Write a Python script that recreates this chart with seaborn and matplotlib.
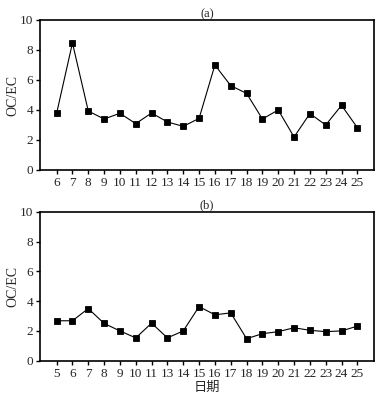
import matplotlib
matplotlib.use("Agg")
import matplotlib.pyplot as plt
import seaborn as sns
import pandas as pd

days_a = ["6", "7", "8", "9", "10", "11", "12", "13", "14", "15",
          "16", "17", "18", "19", "20", "21", "22", "23", "24", "25"]
ratio_a = [3.78, 8.47, 3.93, 3.40, 3.78, 3.09, 3.80, 3.20, 2.91, 3.44,
           7.00, 5.62, 5.11, 3.40, 4.00, 2.20, 3.76, 3.00, 4.31, 2.82]

days_b = ["5", "6", "7", "8", "9", "10", "11", "13", "14", "15",
          "16", "17", "18", "19", "20", "21", "22", "23", "24", "25"]
ratio_b = [2.68, 2.68, 3.50, 2.50, 2.00, 1.53, 2.52, 1.53, 2.00, 3.63,
           3.08, 3.21, 1.48, 1.81, 1.95, 2.21, 2.04, 1.95, 2.00, 2.32]

titles = ["(a)", "(b)"]
yticks = [0, 2, 4, 6, 8, 10]

sns.set_theme(style="ticks")
plt.rcParams['font.family'] = ['Liberation Serif', 'Noto Sans CJK SC']
plt.rcParams['axes.linewidth'] = 1.2

fig = plt.figure(figsize=(3.87, 3.99), dpi=100)
ax1 = fig.add_axes([40/387, 1-170/399, 334/387, 150/399])
ax2 = fig.add_axes([40/387, 1-360.7/399, 334/387, 149/399])

for ax, days, vals, title in [(ax1, days_a, ratio_a, titles[0]),
                              (ax2, days_b, ratio_b, titles[1])]:
    df = pd.DataFrame({"day": days, "ratio": vals})
    sns.pointplot(data=df, x="day", y="ratio", ax=ax, color="black",
                  markers="s", markersize=5, linewidth=0.8,
                  errorbar=None, order=days)
    n = len(days)
    ax.set_xlim(-1.05, n + 0.05)
    ax.set_ylim(0, 10)
    ax.set_yticks(yticks)
    ax.set_ylabel("OC/EC", fontsize=10, labelpad=0.5)
    ax.set_xlabel("")
    ax.set_title(title, fontsize=9, pad=2)
    ax.tick_params(axis="both", direction="out", length=3, width=1,
                   labelsize=9.5, pad=2, color="black")
    for s in ax.spines.values():
        s.set_visible(True)
        s.set_color("black")

ax2.set_xlabel("日期", fontsize=9.5, labelpad=1,
               family=['Noto Sans CJK SC', 'DejaVu Sans'])

fig.savefig("out.png", dpi=100)
